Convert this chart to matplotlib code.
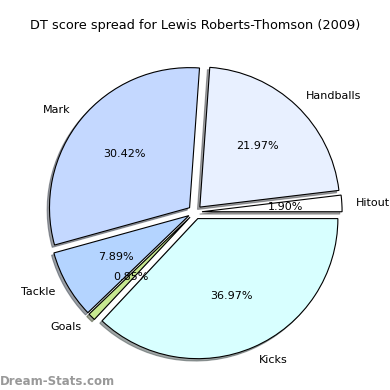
import matplotlib
matplotlib.use('Agg')
from matplotlib import pyplot as plt

labels = ['Hitout', 'Handballs', 'Mark', 'Tackle', 'Goals', 'Kicks']
values = [1.90, 21.97, 30.42, 7.89, 0.85, 36.97]
colors = ['#ffffff', '#e8f0ff', '#c4d8ff', '#b4d4ff', '#c8e890', '#d8ffff']
explode = [0.05] * len(values)

fig = plt.figure(figsize=(3.9, 3.9), dpi=100)
ax = fig.add_axes([0.051, 0.007, 0.898, 0.898])
ax.pie(values, labels=labels, colors=colors, explode=explode,
       shadow={'ox': -0.012, 'oy': -0.012},
       autopct='%1.2f%%', startangle=0,
       wedgeprops={'edgecolor': 'black', 'linewidth': 0.8},
       textprops={'fontsize': 8})
ax.set_aspect('equal')
fig.text(0.5, 0.935, 'DT score spread for Lewis Roberts-Thomson (2009)',
         ha='center', va='center', fontsize=9.3)
fig.text(0.0, 0.022, 'Dream-Stats.com', color='#999999', fontsize=8.5,
         fontweight='bold', ha='left', va='center')
fig.savefig('out.png', dpi=100)
